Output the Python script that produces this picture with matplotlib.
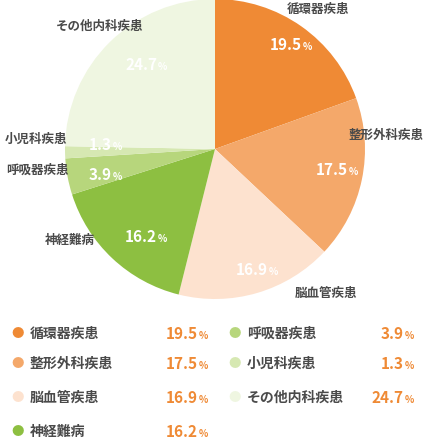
import matplotlib
matplotlib.use("Agg")
import matplotlib.pyplot as plt

plt.rcParams['font.family'] = ['Noto Sans CJK JP', 'DejaVu Sans']

labels = ['循環器疾患', '整形外科疾患', '脳血管疾患', '神経難病', '呼吸器疾患', '小児科疾患', 'その他内科疾患']
values = [19.5, 17.5, 16.9, 16.2, 3.9, 1.3, 24.7]
colors = ['#ef8a35', '#f4a86a', '#fde2cf', '#8dbf41', '#b7d67c', '#d6e8b2', '#eff6e1']

W, H = 430, 439
fig = plt.figure(figsize=(W / 100, H / 100), dpi=100)
ax = fig.add_axes([65 / W, 1 - 300 / H, 300 / W, 300 / H])
ax.pie(values, colors=colors, startangle=90, counterclock=False, radius=1,
       wedgeprops=dict(linewidth=0))
ax.set_xlim(-1, 1)
ax.set_ylim(-1, 1)
ax.set_aspect('equal')

def put(x, y, s, **kw):
    ax.text(x / W, 1 - y / H, s, transform=fig.transFigure, zorder=10,
            fontweight='bold', va='center', clip_on=False, **kw)

dark = '#4a4a4a'
orange = '#ef8a35'

# values inside the slices
num_pos = [(302, 45), (348, 170), (268, 270), (157, 237), (112, 175), (112, 145), (157, 65)]
for v, (x, y) in zip(values, num_pos):
    put(x, y, f'{v}', color='white', fontsize=11, ha='right')
    put(x + 1, y + 2, '%', color='white', fontsize=7, ha='left')

# names around the pie
name_pos = [(318, 10), (386, 135), (326, 294), (70, 240), (37, 170), (36, 139), (100, 26)]
for lab, (x, y) in zip(labels, name_pos):
    put(x, y, lab, color=dark, fontsize=9, ha='center')

# legend
rows = [334, 364, 398, 432]
for i, (lab, v, c) in enumerate(zip(labels, values, colors)):
    col, row = divmod(i, 4)
    y = rows[row]
    mx, tx, vx = (18, 30, 198) if col == 0 else (235, 247, 404)
    put(mx, y, '●', color=c, fontsize=9, ha='center')
    put(tx, y, lab, color=dark, fontsize=10, ha='left')
    put(vx, y, f'{v}', color=orange, fontsize=11, ha='right')
    put(vx + 1, y + 2, '%', color=orange, fontsize=7, ha='left')

fig.savefig('out.png', dpi=100)
